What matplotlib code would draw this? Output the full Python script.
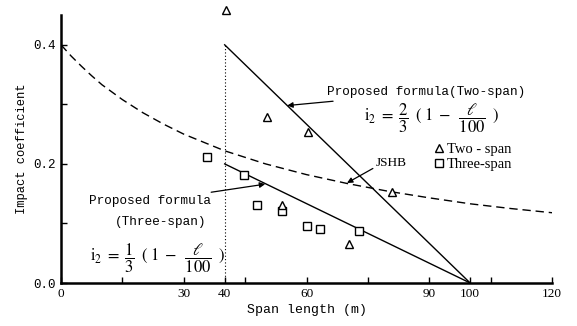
import numpy as np
import matplotlib
matplotlib.use('Agg')
import matplotlib.pyplot as plt

# measured impact coefficients
two_span_x = [40.3, 50.3, 60.3, 81.0, 54.0, 70.4]
two_span_y = [0.459, 0.279, 0.253, 0.152, 0.131, 0.065]
three_span_x = [35.8, 44.7, 48.0, 54.1, 60.1, 63.2, 72.8]
three_span_y = [0.211, 0.181, 0.131, 0.121, 0.096, 0.091, 0.088]

# proposed formulas (end points) and JSHB curve
prop2_x = [40, 100]
prop2_y = [0.40, 0.0]
prop3_x = [40, 100]
prop3_y = [0.20, 0.0]
jshb_x = [0, 2.5, 5, 7.5, 10, 15, 20, 25, 30, 40, 50, 60, 70, 80, 90, 100, 110, 120]
jshb_y = [0.400, 0.381, 0.364, 0.348, 0.333, 0.308, 0.286, 0.267, 0.250, 0.222,
          0.200, 0.182, 0.167, 0.154, 0.143, 0.133, 0.125, 0.118]

xticks = [0, 30, 40, 60, 90, 100, 120]
xminor = [15, 45, 75, 105]
yticks = [0.0, 0.2, 0.4]
yminor = [0.1, 0.3]

mono = 'Liberation Mono'
serif = 'Liberation Serif'
plt.rcParams['mathtext.fontset'] = 'stix'

fig = plt.figure(figsize=(5.77, 3.26), dpi=100)
ax = fig.add_axes([0.1057, 0.1319, 0.851, 0.822])

ax.plot(jshb_x, jshb_y, color='black', lw=1.0, ls=(0, (6, 3.5)))
ax.plot(prop2_x, prop2_y, color='black', lw=1.0)
ax.plot(prop3_x, prop3_y, color='black', lw=1.0)
ax.plot([40, 40], [0, 0.4], color='black', lw=0.8, ls=(0, (1, 2)))

tri = ax.plot(two_span_x, two_span_y, ls='none', marker='^', ms=5.5, mfc='white',
              mec='black', mew=1.0, clip_on=False, zorder=5)[0]
sq = ax.plot(three_span_x, three_span_y, ls='none', marker='s', ms=5.5, mfc='white',
             mec='black', mew=1.0, clip_on=False, zorder=4)[0]

ax.set_xlim(0, 120)
ax.set_ylim(0, 0.45)
ax.spines['top'].set_visible(False)
ax.spines['right'].set_visible(False)
ax.spines['left'].set_linewidth(1.8)
ax.spines['bottom'].set_linewidth(1.8)

ax.set_xticks(xticks)
ax.set_xticklabels([str(v) for v in xticks], fontfamily=serif, fontsize=9.5)
ax.set_xticks(xminor, minor=True)
ax.set_yticks(yticks)
ax.set_yticklabels(['%.1f' % v for v in yticks], fontfamily=mono, fontsize=9)
ax.set_yticks(yminor, minor=True)
ax.tick_params(which='both', direction='in', length=4, width=1.0)

ax.set_xlabel('Span length (m)', fontfamily=mono, fontsize=9.5, labelpad=3)
ax.set_ylabel('Impact coefficient', fontfamily=mono, fontsize=8.7, labelpad=4)

formula2 = r'$\mathrm{i}_{\mathit{2}}\;=\;\dfrac{2}{3}\;\;(\;1\;-\;\;\dfrac{\ell}{100}\;\;)$'
formula3 = r'$\mathrm{i}_{\mathit{2}}\;=\;\dfrac{1}{3}\;\;(\;1\;-\;\;\dfrac{\ell}{100}\;\;)$'

# two-span annotation
ax.annotate('Proposed formula(Two-span)', xy=(55.3, 0.298), xytext=(65.0, 0.320),
            fontfamily=mono, fontsize=9.2, ha='left', va='center',
            arrowprops=dict(arrowstyle='-|>', color='black', lw=0.9,
                            mutation_scale=8, shrinkA=0, shrinkB=0))
ax.text(90.5, 0.277, formula2, fontsize=12, ha='center', va='center')

# three-span annotation
ax.annotate('Proposed formula', xy=(49.9, 0.166), xytext=(36.6, 0.137),
            fontfamily=mono, fontsize=9.2, ha='right', va='center',
            arrowprops=dict(arrowstyle='-|>', color='black', lw=0.9,
                            mutation_scale=8, shrinkA=2, shrinkB=0))
ax.text(24.4, 0.103, '(Three-span)', fontfamily=mono, fontsize=9.2,
        ha='center', va='center')
ax.text(23.6, 0.042, formula3, fontsize=12, ha='center', va='center')

# JSHB
ax.annotate('JSHB', xy=(69.9, 0.168), xytext=(76.9, 0.201),
            fontfamily=serif, fontsize=9.5, ha='left', va='center',
            arrowprops=dict(arrowstyle='-|>', color='black', lw=0.9,
                            mutation_scale=8, shrinkA=0, shrinkB=0,
                            relpos=(0, 0.2)))

ax.legend([tri, sq], ['Two - span', 'Three-span'], loc='upper left',
          bbox_to_anchor=(0.76, 0.523), frameon=False, borderaxespad=0,
          borderpad=0, handlelength=0.6, handletextpad=0.25, labelspacing=0.15,
          prop={'family': serif, 'size': 10.5})

fig.savefig('out.png', dpi=100)
